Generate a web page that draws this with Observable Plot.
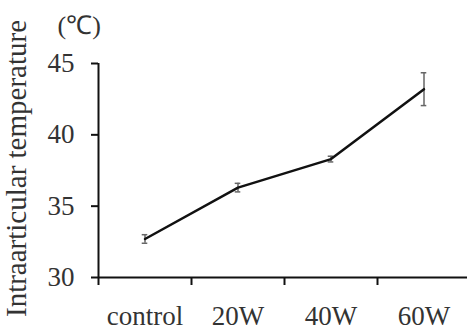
<!DOCTYPE html>
<html>
<head>
<meta charset="utf-8">
<script src="https://cdn.jsdelivr.net/npm/d3@7"></script>
<script src="https://cdn.jsdelivr.net/npm/@observablehq/plot@0.6"></script>
<style>
  html, body { margin: 0; padding: 0; background: #fff; }
  #chart svg { display: block; }
</style>
</head>
<body>
<div id="chart"></div>
<script>
const categories = ["control", "20W", "40W", "60W"];
const means = [32.7, 36.3, 38.3, 43.2];
const errors = [0.3, 0.3, 0.2, 1.15];
const yTicks = [30, 35, 40, 45];
const yLabel = "Intraarticular temperature";
const unitLabel = "(\u2103)";

const data = categories.map((c, i) => ({
  cat: c, xi: i + 0.5, mean: means[i], lo: means[i] - errors[i], hi: means[i] + errors[i]
}));

const font = "'Liberation Serif', 'Times New Roman', serif";
const capHalf = 0.03;

const chart = Plot.plot({
  width: 467,
  height: 331,
  marginTop: 63,
  marginBottom: 54,
  marginLeft: 98,
  marginRight: 0,
  style: { fontFamily: font, fontSize: "27px", color: "#222", background: "#fff" },
  x: { domain: [0, 4], range: [98, 470] },
  y: { domain: [30, 45] },
  marks: [
    Plot.axisY({ ticks: yTicks, tickSize: 7, tickPadding: 17, strokeWidth: 2, stroke: "#111", fill: "#333", label: null, fontSize: 27 }),
    Plot.axisX({ ticks: [0, 1, 2, 3, 4], tickSize: 8, tickFormat: () => "", strokeWidth: 2, stroke: "#111", label: null }),
    Plot.axisX({ ticks: categories.map((c, i) => i + 0.5), tickSize: 0, tickPadding: 28, tickFormat: d => categories[Math.floor(d)], fill: "#333", label: null, fontSize: 27 }),
    Plot.ruleY([30], { stroke: "#111", strokeWidth: 2 }),
    Plot.ruleX([0], { y1: 30, y2: 45, stroke: "#111", strokeWidth: 2 }),
    Plot.ruleX(data, { x: "xi", y1: "lo", y2: "hi", stroke: "#666", strokeWidth: 1.5 }),
    Plot.ruleY(data, { y: "lo", x1: d => d.xi - capHalf, x2: d => d.xi + capHalf, stroke: "#666", strokeWidth: 1.5 }),
    Plot.ruleY(data, { y: "hi", x1: d => d.xi - capHalf, x2: d => d.xi + capHalf, stroke: "#666", strokeWidth: 1.5 }),
    Plot.line(data, { x: "xi", y: "mean", stroke: "#111", strokeWidth: 2.5 }),
    Plot.text([yLabel], { frameAnchor: "left", rotate: -90, textAnchor: "middle", dx: -82, dy: -2, fill: "#333", fontSize: 29, lineAnchor: "middle" }),
    Plot.text([unitLabel], { frameAnchor: "top-left", textAnchor: "start", dx: -41, dy: -38, fill: "#333", fontSize: 26, lineAnchor: "middle" })
  ]
});
document.getElementById("chart").appendChild(chart);
</script>
</body>
</html>
